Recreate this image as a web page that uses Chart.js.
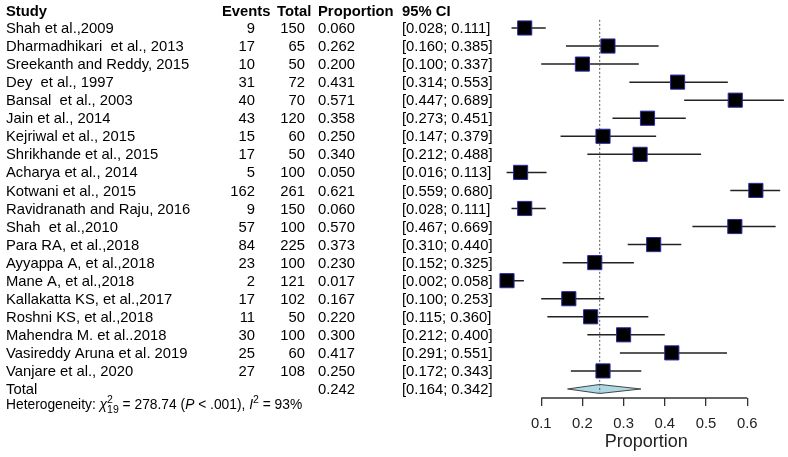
<!DOCTYPE html>
<html>
<head>
<meta charset="utf-8">
<script src="https://cdn.jsdelivr.net/npm/chart.js@4/dist/chart.umd.min.js"></script>
<style>
  html, body { margin: 0; padding: 0; background: #fff; }
  #wrap { width: 788px; height: 457px; position: relative; }
</style>
</head>
<body>
<div id="wrap"><canvas id="forest"></canvas></div>
<script>
var studies = [
    'Shah et al.,2009', 'Dharmadhikari  et al., 2013', 'Sreekanth and Reddy, 2015',
    'Dey  et al., 1997', 'Bansal  et al., 2003', 'Jain et al., 2014', 'Kejriwal et al., 2015',
    'Shrikhande et al., 2015', 'Acharya et al., 2014', 'Kotwani et al., 2015',
    'Ravidranath and Raju, 2016', 'Shah  et al.,2010', 'Para RA, et al.,2018',
    'Ayyappa A, et al.,2018', 'Mane A, et al.,2018', 'Kallakatta KS, et al.,2017',
    'Roshni KS, et al.,2018', 'Mahendra M. et al..2018', 'Vasireddy Aruna et al. 2019',
    'Vanjare et al., 2020'
];
var events = [9, 17, 10, 31, 40, 43, 15, 17, 5, 162, 9, 57, 84, 23, 2, 17, 11, 30, 25, 27];
var totals = [150, 65, 50, 72, 70, 120, 60, 50, 100, 261, 150, 100, 225, 100, 121, 102, 50, 100, 60, 108];
var proportions = [0.060, 0.262, 0.200, 0.431, 0.571, 0.358, 0.250, 0.340, 0.050, 0.621,
    0.060, 0.570, 0.373, 0.230, 0.017, 0.167, 0.220, 0.300, 0.417, 0.250];
var ciLower = [0.028, 0.160, 0.100, 0.314, 0.447, 0.273, 0.147, 0.212, 0.016, 0.559,
    0.028, 0.467, 0.310, 0.152, 0.002, 0.100, 0.115, 0.212, 0.291, 0.172];
var ciUpper = [0.111, 0.385, 0.337, 0.553, 0.689, 0.451, 0.379, 0.488, 0.113, 0.680,
    0.111, 0.669, 0.440, 0.325, 0.058, 0.253, 0.360, 0.400, 0.551, 0.343];
var pooled = 0.242;
var pooledLower = 0.164;
var pooledUpper = 0.342;
var xTicks = [0.1, 0.2, 0.3, 0.4, 0.5, 0.6];
var xTickLabels = ['0.1', '0.2', '0.3', '0.4', '0.5', '0.6'];

var FONT = '"Liberation Sans", Arial, sans-serif';
var totalRow = studies.length;

var squares = [];
var whiskers = [];
for (var i = 0; i < studies.length; i++) {
    squares.push({x: proportions[i], y: i});
    whiskers.push({x: ciLower[i], y: i});
    whiskers.push({x: ciUpper[i], y: i});
    whiskers.push({x: null, y: null});
}
var diamond = [
    {x: pooledLower, y: totalRow},
    {x: pooled, y: totalRow - 0.25},
    {x: pooledUpper, y: totalRow},
    {x: pooled, y: totalRow + 0.25},
    {x: pooledLower, y: totalRow}
];

function fmt(v) { return v.toFixed(3); }

// table text, axis line and axis title
var tablePlugin = {
    id: 'forestTable',
    afterDraw: function(chart) {
        var ctx = chart.ctx;
        var ys = chart.scales.y;
        var xs = chart.scales.x;
        ctx.save();
        ctx.fillStyle = '#000';
        ctx.textBaseline = 'middle';

        var hy = ys.getPixelForValue(-0.9);
        ctx.font = 'bold 14.8px ' + FONT;
        ctx.textAlign = 'left';
        ctx.fillText('Study', 6, hy);
        ctx.fillText('Events', 222, hy);
        ctx.fillText('Total', 277, hy);
        ctx.fillText('Proportion', 318, hy);
        ctx.fillText('95% CI', 402, hy);

        ctx.font = '14.8px ' + FONT;
        for (var i = 0; i <= totalRow; i++) {
            var y = ys.getPixelForValue(i) + 1;
            ctx.textAlign = 'left';
            if (i < totalRow) {
                ctx.fillText(studies[i], 6, y);
                ctx.fillText(fmt(proportions[i]), 318, y);
                ctx.fillText('[' + fmt(ciLower[i]) + '; ' + fmt(ciUpper[i]) + ']', 402, y);
                ctx.textAlign = 'right';
                ctx.fillText(String(events[i]), 255, y);
                ctx.fillText(String(totals[i]), 305, y);
            } else {
                ctx.fillText('Total', 6, y);
                ctx.fillText(fmt(pooled), 318, y);
                ctx.fillText('[' + fmt(pooledLower) + '; ' + fmt(pooledUpper) + ']', 402, y);
            }
        }

        // heterogeneity line, written piece by piece
        var hx = 6;
        var hyy = ys.getPixelForValue(totalRow + 0.9);
        var reg = '13.8px ' + FONT, ita = 'italic 13.8px ' + FONT, small = '10.5px ' + FONT;
        ctx.textAlign = 'left';
        function seg(text, font, dy, noAdvance) {
            ctx.font = font;
            ctx.fillText(text, hx, hyy + (dy || 0));
            if (!noAdvance) hx += ctx.measureText(text).width;
        }
        seg('Heterogeneity: ', reg);
        seg('\u03c7', ita);
        seg('2', small, -5, true);
        seg('19', small, 5);
        seg(' = 278.74 (', reg);
        seg('P', ita);
        seg(' < .001), ', reg);
        seg('I', ita);
        seg('2', small, -5);
        seg(' = 93%', reg);

        // axis line between first and last tick
        var ay = chart.chartArea.bottom;
        ctx.strokeStyle = '#333';
        ctx.lineWidth = 1.3;
        ctx.beginPath();
        ctx.moveTo(xs.getPixelForValue(xTicks[0]), ay);
        ctx.lineTo(xs.getPixelForValue(xTicks[xTicks.length - 1]), ay);
        ctx.stroke();

        ctx.font = '18px ' + FONT;
        ctx.textAlign = 'center';
        ctx.textBaseline = 'alphabetic';
        ctx.fillStyle = '#222';
        ctx.fillText('Proportion', xs.getPixelForValue((xTicks[0] + xTicks[xTicks.length - 1]) / 2) + 2, 447);
        ctx.restore();
    }
};

new Chart(document.getElementById('forest'), {
    type: 'scatter',
    data: {
        datasets: [
            {
                label: 'Studies',
                data: squares,
                pointStyle: 'rect',
                pointRadius: 10,
                backgroundColor: '#000',
                borderColor: '#2a2aa8',
                borderWidth: 1,
                showLine: false
            },
            {
                label: 'Pooled line',
                data: [{x: pooled, y: -0.45}, {x: pooled, y: totalRow + 0.2}],
                showLine: true,
                pointRadius: 0,
                borderColor: '#555',
                borderWidth: 1,
                borderDash: [2, 2]
            },
            {
                label: 'Pooled',
                data: diamond,
                showLine: true,
                pointRadius: 0,
                fill: 'shape',
                backgroundColor: '#add8e6',
                borderColor: '#444',
                borderWidth: 1
            },
            {
                label: '95% CI',
                data: whiskers,
                showLine: true,
                spanGaps: false,
                pointRadius: 0,
                borderColor: '#222',
                borderWidth: 1.5
            }
        ]
    },
    options: {
        responsive: true,
        maintainAspectRatio: false,
        animation: false,
        layout: { padding: 0, autoPadding: false },
        plugins: {
            legend: { display: false },
            tooltip: { enabled: false }
        },
        scales: {
            x: {
                type: 'linear',
                min: -500 / 412,
                max: 288 / 412,
                afterBuildTicks: function(scale) {
                    scale.ticks = xTicks.map(function(v) { return {value: v}; });
                },
                afterFit: function(scale) {
                    scale.height = 59;
                    scale.paddingLeft = 0;
                    scale.paddingRight = 0;
                },
                ticks: {
                    autoSkip: false,
                    maxRotation: 0,
                    padding: 9,
                    color: '#222',
                    font: { family: FONT, size: 14.8 },
                    callback: function(v, i) { return xTickLabels[i]; }
                },
                grid: {
                    drawOnChartArea: false,
                    drawTicks: true,
                    tickLength: 8,
                    color: '#333',
                    lineWidth: 1.3
                },
                border: { display: false }
            },
            y: {
                type: 'linear',
                display: false,
                reverse: true,
                min: -1.55,
                max: 20.5
            }
        }
    },
    plugins: [tablePlugin]
});
</script>
</body>
</html>
